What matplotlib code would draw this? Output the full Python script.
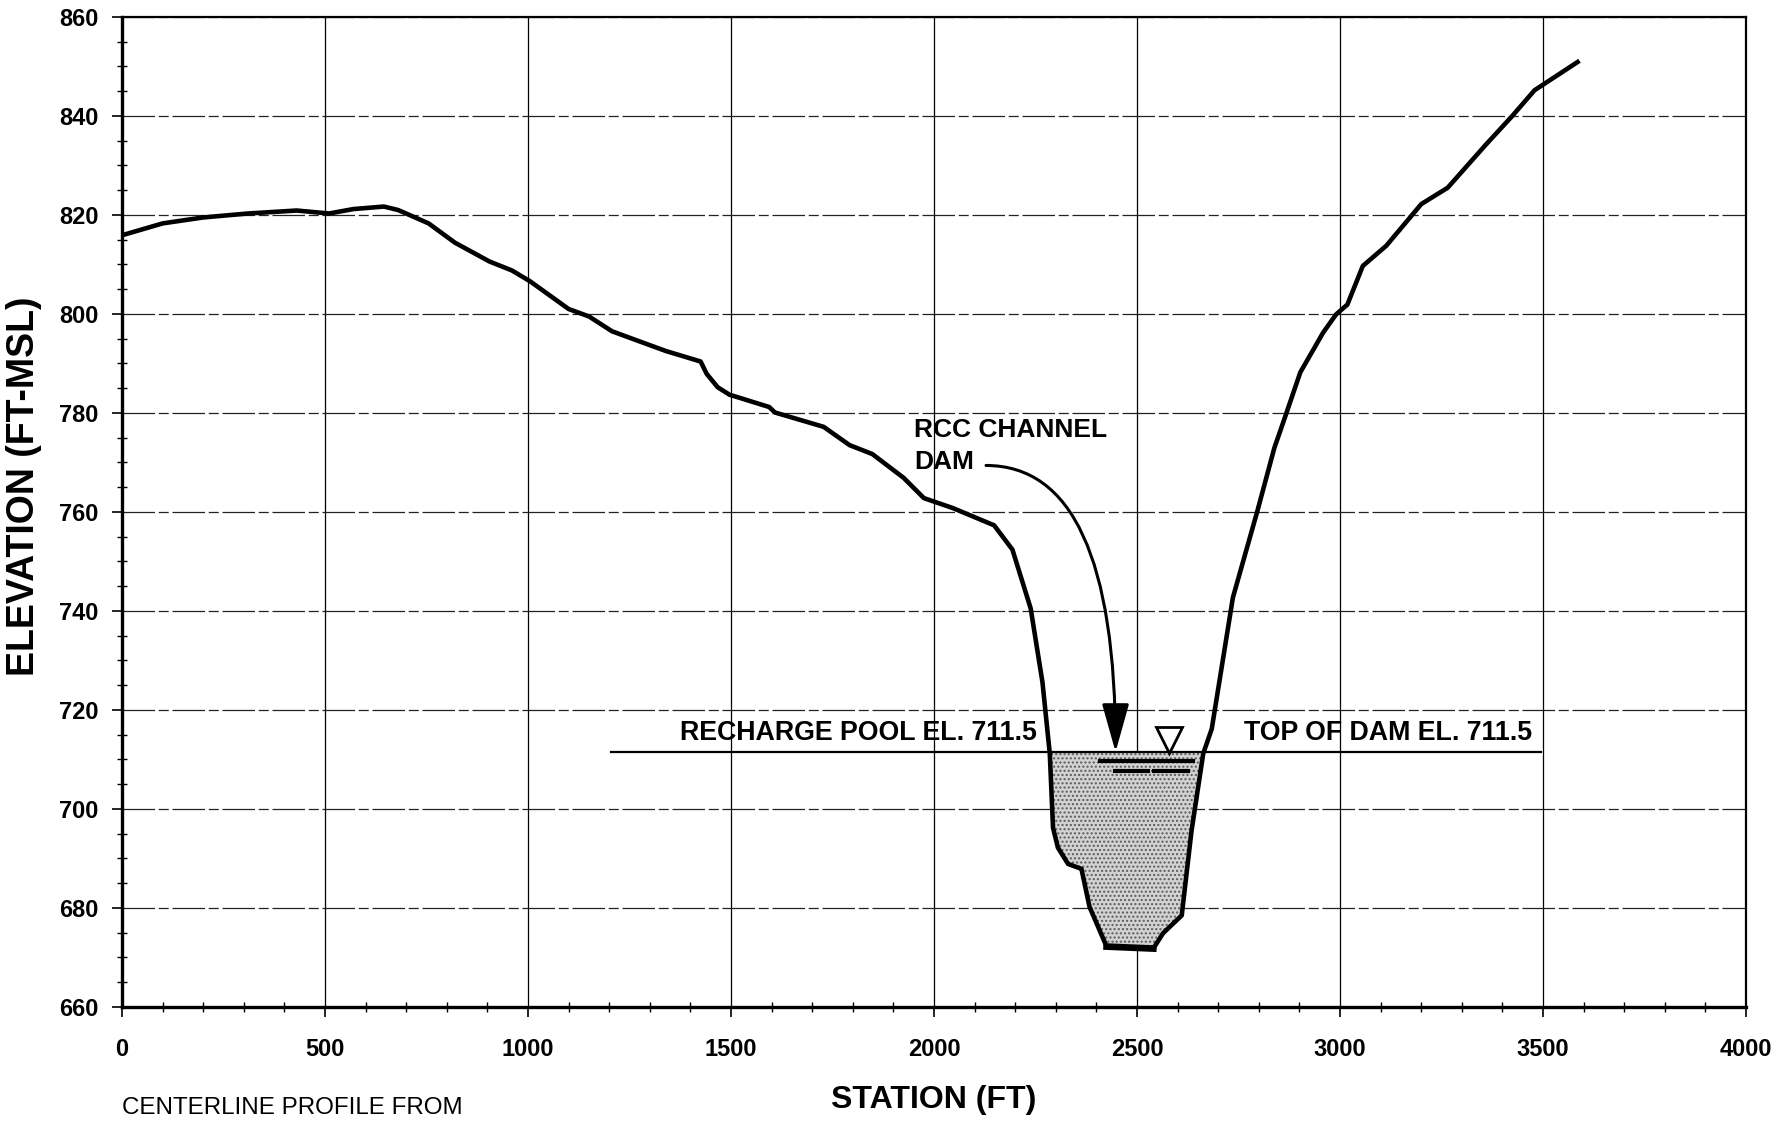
import numpy as np
import matplotlib
matplotlib.use("Agg")
import matplotlib.pyplot as plt
from matplotlib.ticker import MultipleLocator

plt.rcParams['font.family'] = ['Liberation Sans', 'DejaVu Sans']
plt.rcParams['font.weight'] = 'bold'

# centerline ground profile
station = [0, 100, 200, 310, 430, 510, 570, 645, 680, 755, 820, 905, 960, 1005,
           1100, 1150, 1207, 1270, 1340, 1425, 1440, 1467, 1496, 1594, 1608, 1728,
           1792, 1848, 1925, 1975, 2046, 2148, 2193, 2238, 2267, 2285, 2293, 2305,
           2330, 2363, 2383, 2425, 2540, 2564, 2610, 2634, 2663, 2684, 2736, 2796,
           2838, 2865, 2902, 2958, 2990, 3018, 3056, 3114, 3200, 3265, 3359, 3423,
           3479, 3585]
elevation = [815.9, 818.3, 819.5, 820.3, 820.9, 820.3, 821.2, 821.7, 821.0, 818.3,
             814.4, 810.6, 808.8, 806.6, 801.0, 799.5, 796.5, 794.6, 792.5, 790.4,
             787.9, 785.2, 783.7, 781.2, 780.1, 777.2, 773.5, 771.7, 766.9, 762.8,
             760.8, 757.3, 752.4, 740.5, 725.6, 711.2, 696.2, 692.2, 688.9, 687.9,
             680.2, 672.2, 671.8, 674.9, 678.5, 695.5, 711.2, 716.2, 742.7, 760.1,
             772.9, 779.3, 788.2, 796.2, 799.9, 801.9, 809.7, 813.8, 822.2, 825.5,
             834.2, 839.9, 845.2, 850.9]

pool_el = 711.5
pool_line_x = [1205, 3494]
pool_zone = [2280, 2670]       # stations where the recharge pool sits
floor_x = [2425, 2540]         # heavier line along the pool floor
floor_y = [672.2, 671.8]
water_mark = (2579, 713.9)     # water surface symbol
water_dash1 = [2409, 2637]
water_dash1_el = 709.6
water_dash2 = [[2445, 2526], [2541, 2626]]
water_dash2_el = 707.6

arrow_start = (2128, 769.4)
arrow_end = (2447, 711.5)


def plot_profile():
    fig = plt.figure(figsize=(17.87, 11.24), dpi=100)
    ax = fig.add_axes([0.0683, 0.1041, 0.9088, 0.8808])

    x = np.array(station)
    y = np.array(elevation)

    # pool below el. 711.5, stippled
    inside = (x >= pool_zone[0]) & (x <= pool_zone[1])
    ax.fill_between(x[inside], y[inside], pool_el, where=y[inside] <= pool_el,
                    facecolor='#d2d2d2', edgecolor='#5a5a5a', hatch='....',
                    linewidth=0, zorder=2)

    ax.plot(pool_line_x, [pool_el, pool_el], color='black', lw=1.6, zorder=3)
    ax.plot(x, y, color='black', lw=3.3, solid_joinstyle='round', zorder=4)
    ax.plot(floor_x, floor_y, color='black', lw=4.8, zorder=4)

    # water surface symbol
    ax.plot([water_mark[0]], [water_mark[1]], marker='v', ms=18.5,
            markerfacecolor='white', markeredgecolor='black', mew=2, zorder=5)
    ax.plot(water_dash1, [water_dash1_el] * 2, color='black', lw=3, zorder=5)
    for seg in water_dash2:
        ax.plot(seg, [water_dash2_el] * 2, color='black', lw=3, zorder=5)

    ax.annotate('', xy=arrow_end, xytext=arrow_start,
                arrowprops=dict(arrowstyle='-|>,head_length=1.5,head_width=0.42',
                                connectionstyle='angle3,angleA=0,angleB=90',
                                color='black', lw=2.2, shrinkA=0, shrinkB=0,
                                mutation_scale=20), zorder=6)

    ax.text(1951, 778.9, 'RCC CHANNEL\nDAM', fontsize=19, va='top', ha='left',
            linespacing=1.4, zorder=6)
    ax.text(2253, 715.3, 'RECHARGE POOL EL. 711.5', fontsize=19.3, ha='right',
            va='center', zorder=6)
    ax.text(2764, 715.3, 'TOP OF DAM EL. 711.5', fontsize=19.3, ha='left',
            va='center', zorder=6)

    ax.set_xlim(0, 4000)
    ax.set_ylim(660, 860)
    ax.xaxis.set_major_locator(MultipleLocator(500))
    ax.xaxis.set_minor_locator(MultipleLocator(100))
    ax.yaxis.set_major_locator(MultipleLocator(20))
    ax.yaxis.set_minor_locator(MultipleLocator(5))

    ax.xaxis.grid(True, which='major', color='black', lw=0.9)
    ax.yaxis.grid(True, which='major', color='#222222', lw=0.9,
                  linestyle=(0, (26, 3, 8, 3)))
    ax.set_axisbelow(True)

    ax.tick_params(axis='both', which='major', labelsize=17, direction='out',
                   length=7, width=1.2, color='black')
    ax.tick_params(axis='x', which='major', pad=15)
    ax.tick_params(axis='y', which='major', pad=10)
    ax.tick_params(axis='both', which='minor', direction='inout', length=7,
                   width=1.0)

    for side in ['left', 'bottom']:
        ax.spines[side].set_linewidth(2.4)
    for side in ['top', 'right']:
        ax.spines[side].set_linewidth(1.6)

    fig.text(0.5227, 1 - 1100 / 1124, 'STATION (FT)', fontsize=23,
             ha='center', va='center')
    fig.text(0.0135, 0.5676, 'ELEVATION (FT-MSL)', fontsize=27,
             rotation=90, ha='center', va='center')
    fig.text(122 / 1787, 1 - 1108 / 1124, 'CENTERLINE PROFILE FROM',
             fontsize=17.4, fontweight='normal', ha='left', va='center')

    fig.savefig('out.png', dpi=100)


if __name__ == '__main__':
    plot_profile()
